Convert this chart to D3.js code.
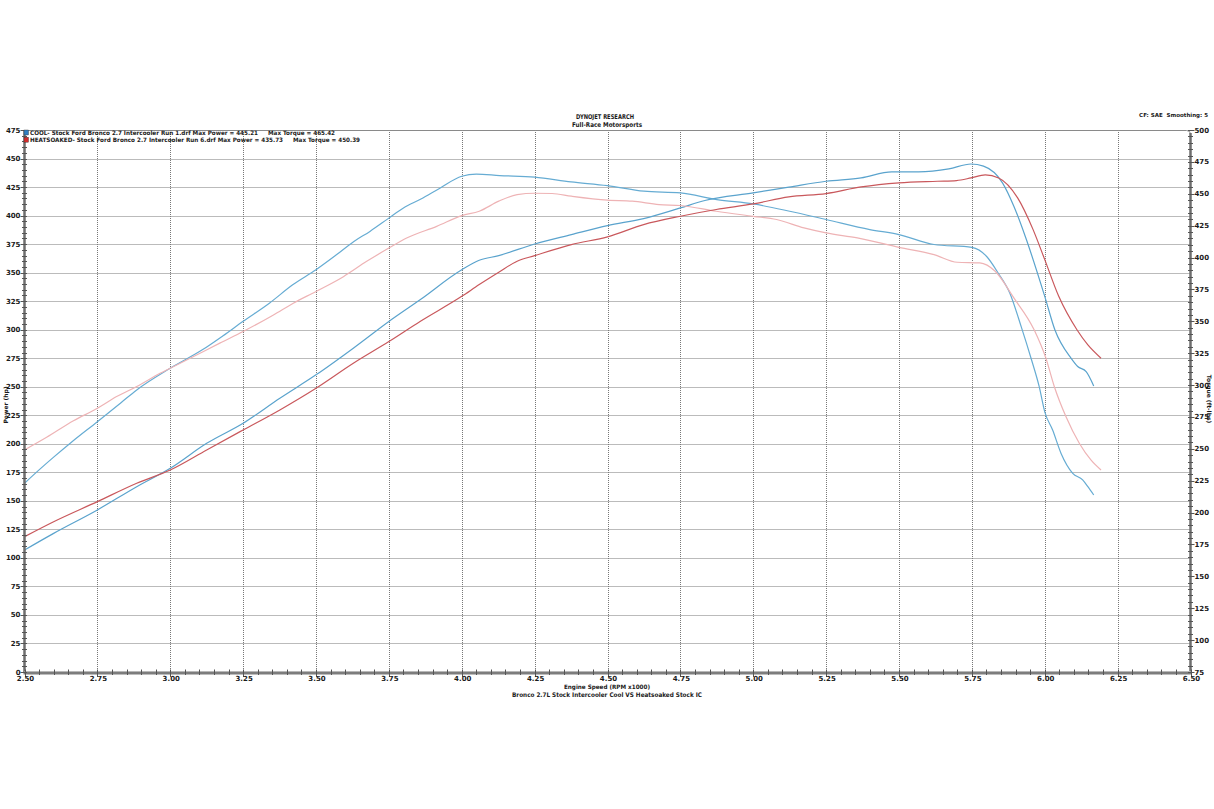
<!DOCTYPE html>
<html><head><meta charset="utf-8">
<script src="https://cdn.jsdelivr.net/npm/d3@7"></script>
<style>html,body{margin:0;padding:0;background:#fff}svg{display:block}</style>
</head><body>
<svg id="c" width="1214" height="809"></svg>
<script>
// ---- data (read from the dyno sheet) ----
const xTicks = [2.50,2.75,3.00,3.25,3.50,3.75,4.00,4.25,4.50,4.75,5.00,5.25,5.50,5.75,6.00,6.25,6.50];
const powerTicks = d3.range(0, 476, 25);
const torqueTicks = d3.range(75, 501, 25);

const coolPowerRpm = [2.50,2.60,2.75,2.885,3.00,3.125,3.25,3.376,3.50,3.628,3.75,3.857,4.00,4.06,4.127,4.25,4.376,4.50,4.624,4.75,4.834,5.00,5.122,5.25,5.37,5.475,5.567,5.671,5.747,5.79,5.855,5.894,5.933,6.00,6.035,6.09,6.113,6.142,6.168];
const coolPower    = [106.9,121.5,142.0,162.4,178.5,200.4,218.0,239.9,260.4,283.8,307.2,326.2,352.5,360.8,364.9,375.1,383.3,391.2,397.4,406.7,413.2,419.9,424.9,430.1,433.0,438.3,438.3,440.9,445.2,443.3,428.7,408.2,381.9,329.2,299.7,275.0,267.7,263.3,250.7];

const coolTorqueRpm = [2.50,2.55,2.60,2.66,2.75,2.83,2.885,3.00,3.11,3.18,3.25,3.34,3.42,3.50,3.57,3.63,3.685,3.75,3.80,3.86,3.925,4.00,4.05,4.13,4.25,4.375,4.50,4.625,4.75,4.875,5.00,5.125,5.25,5.40,5.50,5.62,5.75,5.80,5.84,5.88,5.92,5.953,5.981,6.00,6.027,6.056,6.096,6.13,6.148,6.168];
const coolTorque    = [223.0,233.5,243.5,255.0,271.3,286.0,296.2,313.2,327.6,338.5,350.0,364.2,378.6,390.4,402.1,412.6,420.5,430.9,438.8,445.9,454.4,463.7,465.4,464.3,463.0,459.3,456.4,452.0,450.7,445.4,442.0,436.3,429.8,421.9,418.0,410.2,408.0,401.0,387.9,372.2,345.2,321.0,298.7,279.0,264.7,246.4,230.8,225.6,220.3,213.8];

const hotPowerRpm = [2.50,2.60,2.75,2.885,3.00,3.125,3.25,3.376,3.50,3.628,3.75,3.857,4.00,4.06,4.127,4.19,4.25,4.376,4.50,4.624,4.75,4.873,5.00,5.122,5.25,5.37,5.50,5.632,5.697,5.747,5.796,5.842,5.907,5.96,6.00,6.048,6.111,6.148,6.193];
const hotPower    = [118.6,131.7,149.3,165.4,177.0,194.6,212.1,229.7,248.7,270.6,289.6,307.2,329.2,339.5,350.3,360.0,364.9,374.6,381.3,392.1,399.4,405.3,410.2,416.4,419.3,425.1,428.7,430.1,430.7,433.0,435.7,433.0,415.5,387.7,361.4,329.2,299.7,286.6,275.0];

const hotTorqueRpm = [2.50,2.576,2.668,2.75,2.816,2.885,2.965,3.00,3.08,3.17,3.25,3.354,3.422,3.50,3.594,3.674,3.75,3.811,3.914,4.00,4.06,4.127,4.19,4.25,4.31,4.376,4.50,4.585,4.677,4.75,4.873,5.00,5.08,5.174,5.25,5.357,5.50,5.62,5.70,5.777,5.83,5.894,5.964,6.004,6.033,6.073,6.119,6.159,6.193];
const hotTorque    = [249.1,259.0,272.0,281.8,291.0,298.9,309.2,313.2,322.4,332.9,342.0,355.0,364.2,373.4,385.0,397.0,407.4,415.3,424.4,432.9,436.3,444.2,449.3,450.4,450.2,448.1,445.0,444.2,441.5,440.8,436.3,432.3,429.8,423.2,419.3,415.4,408.0,402.3,396.3,395.8,389.2,368.3,343.1,321.0,298.7,275.1,254.2,241.1,233.4];

const legendNames = ["COOL- Stock Ford Bronco 2.7 Intercooler Run 1.drf Max Power = 445.21","HEATSOAKED- Stock Ford Bronco 2.7 Intercooler Run 6.drf Max Power = 435.73"];
const legendTorque = ["Max Torque = 465.42","Max Torque = 450.39"];

// ---- drawing ----
const svg = d3.select("#c");
const FONT = "DejaVu Sans, Verdana, sans-serif";
const TXT = "#1a1a1a";
const L = 24.5, R = 1190.5, T = 130, B = 672;
const x = d3.scaleLinear().domain([2.5, 6.5]).range([L, R]);
const yL = d3.scaleLinear().domain([0, 475]).range([B, T]);
const yR = d3.scaleLinear().domain([75, 500]).range([B, T]);

// grid
const grid = svg.append("g").attr("stroke", "#777").attr("stroke-width", 1).attr("stroke-dasharray", "1,1");
grid.selectAll("line.v").data(xTicks.slice(1, -1)).join("line")
  .attr("x1", d => Math.round(x(d)) + 0.5).attr("x2", d => Math.round(x(d)) + 0.5)
  .attr("y1", T).attr("y2", B);
grid.selectAll("line.h").data(powerTicks.slice(1, -1)).join("line")
  .attr("y1", d => Math.round(yL(d)) + 0.5).attr("y2", d => Math.round(yL(d)) + 0.5)
  .attr("x1", L).attr("x2", R);

// frame top line
svg.append("path").attr("d", `M${L},${T+0.5} H${R-4} Q${R},${T+0.5} ${R},${T+4}`)
  .attr("fill", "none").attr("stroke", "#8a8a8a").attr("stroke-width", 1);

// series
const series = [
  {rpm: coolTorqueRpm, v: coolTorque, y: yR, c: "#66acd3", w: 1.2},
  {rpm: coolPowerRpm, v: coolPower, y: yL, c: "#5aa3cd", w: 1.2},
  {rpm: hotTorqueRpm, v: hotTorque, y: yR, c: "#eeb3b5", w: 1.2},
  {rpm: hotPowerRpm, v: hotPower, y: yL, c: "#c9585c", w: 1.2}
];
series.forEach(s => {
  const pts = s.rpm.map((r, i) => [r, s.v[i]]);
  const line = d3.line().x(d => x(d[0])).y(d => s.y(d[1])).curve(d3.curveMonotoneX);
  svg.append("path").datum(pts).attr("d", line).attr("fill", "none")
    .attr("stroke", s.c).attr("stroke-width", s.w).attr("stroke-linejoin", "round");
});

// axes lines
svg.append("line").attr("x1", L).attr("x2", L).attr("y1", T).attr("y2", B + 1)
  .attr("stroke", "#6e6e6e").attr("stroke-width", 2.5);
svg.append("line").attr("x1", R).attr("x2", R).attr("y1", T + 3).attr("y2", B + 1)
  .attr("stroke", "#6e6e6e").attr("stroke-width", 2.5);
svg.append("rect").attr("x", L - 1).attr("y", B - 1).attr("width", R - L + 2).attr("height", 3.5).attr("fill", "#7d7d7d");
svg.append("line").attr("x1", L).attr("x2", R).attr("y1", B - 0.5).attr("y2", B - 0.5).attr("stroke", "#b8b8b8").attr("stroke-width", 1);

// minor ticks
const tk = svg.append("g").attr("stroke", "#555").attr("stroke-width", 1);
tk.selectAll("line.lm").data(d3.range(0, 476, 5)).join("line")
  .attr("x1", d => d % 25 === 0 ? L - 4 : L - 2.5).attr("x2", L + 2.5)
  .attr("y1", d => Math.round(yL(d)) + 0.5).attr("y2", d => Math.round(yL(d)) + 0.5);
tk.selectAll("line.rm").data(d3.range(75, 501, 5)).join("line")
  .attr("x1", R - 2.5).attr("x2", d => d % 25 === 0 ? R + 4 : R + 2.5)
  .attr("y1", d => Math.round(yR(d)) + 0.5).attr("y2", d => Math.round(yR(d)) + 0.5);
tk.selectAll("line.bm").data(d3.range(0, 81).map(i => 2.5 + i * 0.05)).join("line")
  .attr("x1", d => Math.round(x(d)) + 0.5).attr("x2", d => Math.round(x(d)) + 0.5)
  .attr("y1", B - 2.5).attr("y2", (d, i) => i % 5 === 0 ? B + 5 : B + 3);

// tick labels
const lab = svg.append("g").attr("font-family", FONT).attr("font-weight", "bold").attr("font-size", 7).attr("fill", TXT);
lab.selectAll("text.l").data(powerTicks).join("text")
  .attr("x", L - 4).attr("y", d => yL(d) + 2.5).attr("text-anchor", "end").text(d => d);
lab.selectAll("text.r").data(torqueTicks).join("text")
  .attr("x", R + 4).attr("y", d => yR(d) + 2.5).attr("text-anchor", "start").text(d => d);
lab.selectAll("text.b").data(xTicks).join("text")
  .attr("x", d => x(d) + 1).attr("y", B + 8.5).attr("text-anchor", "middle").text(d => d.toFixed(2));

// axis titles
const t = svg.append("g").attr("font-family", FONT).attr("font-weight", "bold").attr("fill", TXT);
t.append("text").attr("transform", "translate(8,405) rotate(-90)").attr("text-anchor", "middle").attr("font-size", 6).text("Power (hp)");
t.append("text").attr("transform", "translate(1207,399) rotate(90)").attr("text-anchor", "middle").attr("font-size", 6).text("Torque (ft-lbs)");
t.append("text").attr("x", 607).attr("y", 688.5).attr("text-anchor", "middle").attr("font-size", 6).attr("textLength", 86).attr("lengthAdjust", "spacingAndGlyphs").text("Engine Speed (RPM x1000)");
t.append("text").attr("x", 607).attr("y", 697).attr("text-anchor", "middle").attr("font-size", 6.3).attr("textLength", 190).attr("lengthAdjust", "spacingAndGlyphs").text("Bronco 2.7L Stock Intercooler Cool VS Heatsoaked Stock IC");
t.append("text").attr("x", 605).attr("y", 119).attr("text-anchor", "middle").attr("font-size", 6.5).attr("textLength", 58).attr("lengthAdjust", "spacingAndGlyphs").text("DYNOJET RESEARCH");
t.append("text").attr("x", 607).attr("y", 127).attr("text-anchor", "middle").attr("font-size", 6.5).attr("textLength", 70).attr("lengthAdjust", "spacingAndGlyphs").text("Full-Race Motorsports");
t.append("text").attr("x", 1208).attr("y", 117).attr("text-anchor", "end").attr("font-size", 5.5)
  .style("white-space", "pre").text("CF: SAE  Smoothing: 5");

// legend
const legColors = ["#2f7fc1", "#d22c2c"];
const legY = [132.5, 139.7];
const legW = [228, 253];
const legTX = [268, 293];
legendNames.forEach((n, i) => {
  svg.append("rect").attr("x", 24).attr("y", legY[i] - 2.5).attr("width", 4.5).attr("height", 5)
    .attr("fill", legColors[i]).attr("stroke", "#333").attr("stroke-width", 0.4);
  t.append("text").attr("x", 30).attr("y", legY[i] + 2.2).attr("font-size", 6)
    .attr("textLength", legW[i]).attr("lengthAdjust", "spacingAndGlyphs").text(n);
  t.append("text").attr("x", legTX[i]).attr("y", legY[i] + 2.2).attr("font-size", 6)
    .attr("textLength", 67).attr("lengthAdjust", "spacingAndGlyphs").text(legendTorque[i]);
});
</script>
</body></html>
